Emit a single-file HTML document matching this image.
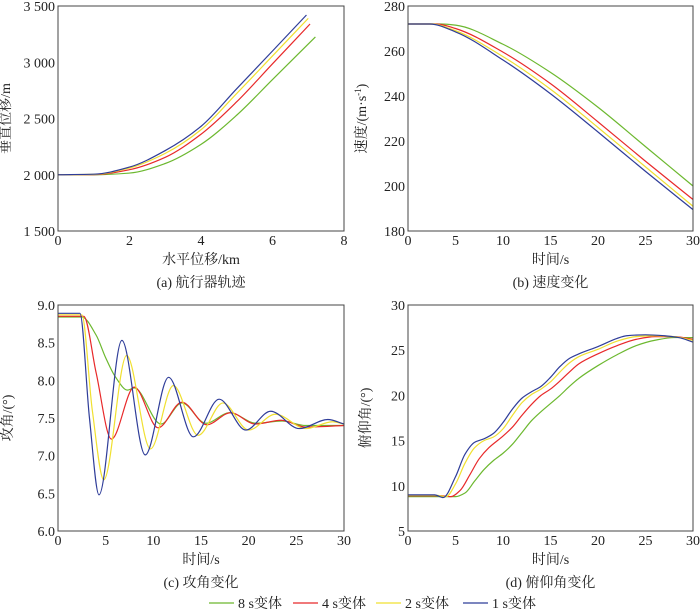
<!DOCTYPE html>
<html><head><meta charset="utf-8">
<style>
body{margin:0;background:#fff;}
svg{display:block;font-family:"Liberation Serif","Noto Serif CJK SC",serif;}
</style></head>
<body>
<svg id="c" width="700" height="609" viewBox="0 0 700 609" xmlns="http://www.w3.org/2000/svg"></svg>
<script>
const seriesNames = ["8 s变体","4 s变体","2 s变体","1 s变体"];
const seriesColors = ["#6cb82f","#e8292a","#f0e030","#2f3d99"];

// ---- (a) trajectory ----
const aX_green = [0,1,2,3,4,5,6,7.2];
const aY_green = [2000,2000,2015,2100,2270,2530,2846,3225];
const aX_red = [0,1,2,3,4,5,6,7.05];
const aY_red = [2000,2001,2045,2155,2360,2649,2986,3340];
const aX_yellow = [0,1,2,3,4,5,6,7.0];
const aY_yellow = [2000,2003,2060,2190,2400,2723,3056,3390];
const aX_blue = [0,1,2,3,4,5,6,6.95];
const aY_blue = [2000,2005,2068,2215,2430,2765,3100,3420];
const aXTicks = [0,2,4,6,8];
const aYTicks = [1500,2000,2500,3000,3500];
const aYTickLabels = ["1 500","2 000","2 500","3 000","3 500"];

// ---- (b) speed ----
const bT_green = [0,3.5,5,10,15,20,25,30];
const bV_green = [272,272,271.5,263,250.5,235,217.5,200];
const bT_red = [0,3,5,10,15,20,25,30];
const bV_red = [272,272,270,259.5,245.5,228.5,211,194];
const bT_yellow = [0,2.5,5,10,15,20,25,30];
const bV_yellow = [272,272,269,257.5,243,226,208.5,191];
const bT_blue = [0,2.3,5,10,15,20,25,30];
const bV_blue = [272,272,268.5,256,241,224,206.5,189.5];
const bXTicks = [0,5,10,15,20,25,30];
const bYTicks = [180,200,220,240,260,280];

// ---- (c) angle of attack ----
const cT_green = [0,2.5,4,5,6,7.3,8,10.8,13,15.5,18,20.8,23.5,26,30];
const cA_green = [8.84,8.84,8.6,8.3,8.05,7.87,7.90,7.42,7.70,7.43,7.57,7.43,7.46,7.40,7.40];
const cT_red = [0,2.7,4,5.6,8,10.5,13,15.6,18.1,20.7,23.4,26,30];
const cA_red = [8.85,8.85,8.1,7.22,7.91,7.37,7.71,7.41,7.57,7.42,7.47,7.38,7.40];
const cT_yellow = [0,2.5,3.6,4.8,7.2,9.7,12.1,14.7,17.3,20,22.8,26,28.8,30];
const cA_yellow = [8.87,8.87,7.6,6.68,8.33,7.09,7.93,7.27,7.70,7.34,7.55,7.36,7.45,7.42];
const cT_blue = [0,2.3,3.3,4.3,6.7,9.15,11.6,14.2,16.9,19.7,22.3,25.3,28.3,30];
const cA_blue = [8.89,8.89,7.5,6.48,8.53,7.01,8.04,7.25,7.75,7.34,7.59,7.36,7.48,7.42];
const cXTicks = [0,5,10,15,20,25,30];
const cYTicks = [6.0,6.5,7.0,7.5,8.0,8.5,9.0];

// ---- (d) pitch angle ----
const dT_green = [0,5,6,7,8,9,10,11,12,13,14,15,16,17,18,20,22,24,26,28,30];
const dP_green = [8.8,8.8,9.2,10.5,11.8,12.8,13.6,14.6,15.9,17.2,18.2,19.1,20.0,21.0,21.9,23.3,24.5,25.5,26.1,26.4,26.4];
const dT_red = [0,3.5,4.5,5.5,6.5,7.5,8.5,10,11,12,13,14,15,16,17,18,20,22,24,26,28,30];
const dP_red = [8.9,8.9,8.8,9.5,11.2,13.0,14.2,15.5,16.5,17.8,19.0,20.0,20.7,21.6,22.6,23.5,24.6,25.5,26.2,26.5,26.5,26.2];
const dT_yellow = [0,3,4,5,6,7,8,9,10,11,12,13,14,15,16,17,18,20,22,24,26,28,30];
const dP_yellow = [8.95,8.95,8.8,10.2,12.5,14.2,15.0,15.4,16.3,17.8,19.2,20.1,20.7,21.5,22.6,23.6,24.3,25.1,26.0,26.5,26.6,26.5,26.1];
const dT_blue = [0,2.8,3.7,5,6,7,8,9,10,11,12,13,14,15,16,17,18,20,22,23,25,27,28.5,30];
const dP_blue = [9.0,9.0,8.7,11,13.5,14.8,15.2,15.8,17.0,18.5,19.7,20.4,21.0,22.0,23.2,24.1,24.6,25.4,26.3,26.6,26.7,26.6,26.4,25.9];
const dXTicks = [0,5,10,15,20,25,30];
const dYTicks = [5,10,15,20,25,30];

const svg = document.getElementById('c');
const NS = "http://www.w3.org/2000/svg";
function mk(tag, attrs, parent){
  const e = document.createElementNS(NS, tag);
  for (const k in attrs) e.setAttribute(k, attrs[k]);
  (parent||svg).appendChild(e);
  return e;
}
// monotone cubic (Fritsch-Carlson) path in pixel space
function monoPath(pts){
  const n = pts.length;
  const dx=[], dy=[], m=[];
  for (let i=0;i<n-1;i++){ dx.push(pts[i+1][0]-pts[i][0]); dy.push(pts[i+1][1]-pts[i][1]); m.push(dy[i]/dx[i]); }
  const t = new Array(n);
  t[0]=m[0]; t[n-1]=m[n-2];
  for (let i=1;i<n-1;i++){
    if (m[i-1]*m[i] <= 0) t[i]=0;
    else { const w1=2*dx[i]+dx[i-1], w2=dx[i]+2*dx[i-1]; t[i]=(w1+w2)/(w1/m[i-1]+w2/m[i]); }
  }
  let d = "M"+pts[0][0].toFixed(2)+","+pts[0][1].toFixed(2);
  for (let i=0;i<n-1;i++){
    const h = dx[i];
    d += " C"+(pts[i][0]+h/3).toFixed(2)+","+(pts[i][1]+t[i]*h/3).toFixed(2)+" "+
         (pts[i+1][0]-h/3).toFixed(2)+","+(pts[i+1][1]-t[i+1]*h/3).toFixed(2)+" "+
         pts[i+1][0].toFixed(2)+","+pts[i+1][1].toFixed(2);
  }
  return d;
}
function panel(cfg){
  const g = mk('g', {});
  
  
  const sx = v => cfg.x0 + (v-cfg.xmin)/(cfg.xmax-cfg.xmin)*(cfg.x1-cfg.x0);
  const sy = v => cfg.y1 - (v-cfg.ymin)/(cfg.ymax-cfg.ymin)*(cfg.y1-cfg.y0);
  cfg.series.forEach((s,i)=>{
    const pts = s[0].map((x,j)=>[sx(x), sy(s[1][j])]);
    const p = mk('path', {d: monoPath(pts), fill:'none', stroke: seriesColors[i], 'stroke-width':1.2}, g);
    
    
  });
  const fr = mk('rect', {x:cfg.x0, y:cfg.y0, width:cfg.x1-cfg.x0, height:cfg.y1-cfg.y0, fill:'none', stroke:'#444', 'stroke-width':1}, g);
  
  
  cfg.xticks.forEach((v)=>{
    const t = mk('text', {x:sx(v), y:cfg.y1+14, 'text-anchor':'middle', 'font-size':14, fill:'#222'}, g);
    t.textContent = String(v);
    
    
  });
  cfg.yticks.forEach((v,i)=>{
    const t = mk('text', {x:cfg.x0-3, y:sy(v)+5, 'text-anchor':'end', 'font-size':14, fill:'#222'}, g);
    t.textContent = cfg.ylabels ? cfg.ylabels[i] : String(v);
    
    
  });
  const xt = mk('text', {x:(cfg.x0+cfg.x1)/2, y:cfg.y1+33, 'text-anchor':'middle', 'font-size':14, fill:'#222'}, g);
  xt.textContent = cfg.xtitle;
  
  
  const yc = (cfg.y0+cfg.y1)/2;
  const yt = mk('text', {x:cfg.ytx, y:yc, 'text-anchor':'middle', 'font-size':14, fill:'#222', transform:'rotate(-90 '+cfg.ytx+' '+yc+')'}, g);
  yt.innerHTML = cfg.ytitle;
  
  
  const st = mk('text', {x:(cfg.x0+cfg.x1)/2, y:cfg.y1+56, 'text-anchor':'middle', 'font-size':14, fill:'#222'}, g);
  st.textContent = cfg.sub;
  
  
}
panel({name:'panel-a-trajectory', x0:58,x1:344,y0:6,y1:231, xmin:0,xmax:8,ymin:1500,ymax:3500,
  series:[[aX_green,aY_green],[aX_red,aY_red],[aX_yellow,aY_yellow],[aX_blue,aY_blue]],
  xticks:aXTicks, yticks:aYTicks, ylabels:aYTickLabels, xtitle:'水平位移/km', ytitle:'垂直位移/m', ytx:10, sub:'(a) 航行器轨迹'});
panel({name:'panel-b-speed', x0:408,x1:693,y0:6,y1:231, xmin:0,xmax:30,ymin:180,ymax:280,
  series:[[bT_green,bV_green],[bT_red,bV_red],[bT_yellow,bV_yellow],[bT_blue,bV_blue]],
  xticks:bXTicks, yticks:bYTicks, xtitle:'时间/s', ytitle:'速度/(m·s<tspan dy="-5" font-size="9">-1</tspan><tspan dy="5">)</tspan>', ytx:366, sub:'(b) 速度变化'});
panel({name:'panel-c-attack-angle', x0:58,x1:344,y0:305,y1:531, xmin:0,xmax:30,ymin:6,ymax:9,
  series:[[cT_green,cA_green],[cT_red,cA_red],[cT_yellow,cA_yellow],[cT_blue,cA_blue]],
  xticks:cXTicks, yticks:cYTicks, ylabels:cYTicks.map(v=>v.toFixed(1)), xtitle:'时间/s', ytitle:'攻角/(°)', ytx:12, sub:'(c) 攻角变化'});
panel({name:'panel-d-pitch-angle', x0:408,x1:693,y0:305,y1:531, xmin:0,xmax:30,ymin:5,ymax:30,
  series:[[dT_green,dP_green],[dT_red,dP_red],[dT_yellow,dP_yellow],[dT_blue,dP_blue]],
  xticks:dXTicks, yticks:dYTicks, xtitle:'时间/s', ytitle:'俯仰角/(°)', ytx:370, sub:'(d) 俯仰角变化'});

const lg = mk('g', {});


const legX = [209,293,376,463];
seriesNames.forEach((n,i)=>{
  const e = mk('g', {}, lg);
  
  
  mk('line', {x1:legX[i], x2:legX[i]+25, y1:603, y2:603, stroke:seriesColors[i], 'stroke-width':1.2}, e);
  const t = mk('text', {x:legX[i]+29, y:608, 'font-size':14, fill:'#222'}, e);
  t.textContent = n;
});
</script>
</body></html>
